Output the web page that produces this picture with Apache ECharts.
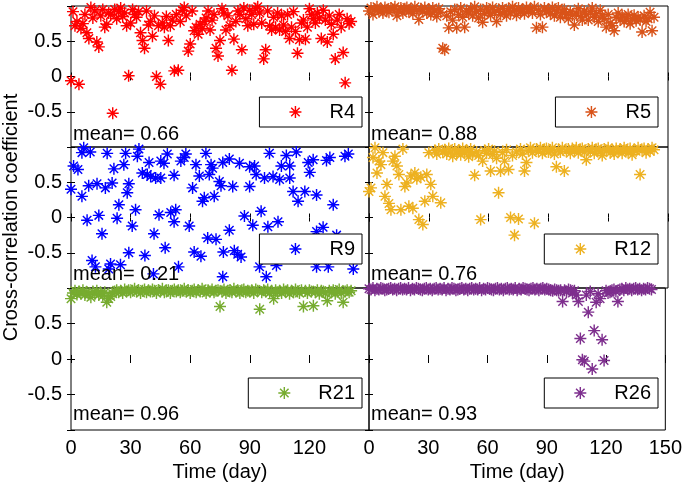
<!DOCTYPE html>
<html>
<head>
<meta charset="utf-8">
<script src="https://cdn.jsdelivr.net/npm/echarts@6/dist/echarts.min.js"></script>
<style>html,body{margin:0;padding:0;background:#fff;}#c{width:685px;height:488px;}</style>
</head>
<body>
<div id="c"></div>
<script>
// ---------- data ----------
const seriesNames = ['R4', 'R5', 'R9', 'R12', 'R21', 'R26'];
const seriesColors = ['#FF0000', '#D95319', '#0000FF', '#EDB120', '#77AC30', '#7E2F8E'];
const meanValues = [0.66, 0.88, 0.21, 0.76, 0.96, 0.93];
const xTicks = [0, 30, 60, 90, 120, 150];
const yTicks = [-0.5, 0, 0.5];

// daily series: index = day
const r4 = [-0.06, 0.92, 0.72, 0.78, -0.11, 0.68, 0.75, 0.88, 0.62, 0.54,
 0.98, 0.83, 0.93, 0.49, 0.42, 0.86, 0.95, 0.70, 0.74, 0.90,
 0.88, -0.52, 0.95, 0.82, 0.92, 0.97, 0.85, 0.90, 0.72, 0.01,
 0.76, 0.95, 0.88, 0.84, 0.92, 0.62, 0.51, 0.40, 0.93, 0.73,
 0.78, 0.57, 0.86, 0.00, 0.72, -0.11, 0.76, 0.70, 0.85, 0.51,
 0.72, 0.80, 0.08, 0.88, 0.09, 0.78, 0.94, 0.98, 0.86, 0.36,
 0.46, 0.93, 0.65, 0.70, 0.60, 0.74, 0.68, 0.78, 0.83, 0.93,
 0.66, 0.80, 0.88, 0.40, 0.29, 0.51, 0.96, 0.90, 0.66, 0.86,
 0.72, 0.09, 0.53, 0.78, 0.93, 0.88, 0.38, 0.97, 0.82, 0.72,
 0.94, 0.88, 0.74, 0.96, 0.99, 0.90, 0.76, 0.25, 0.38, 0.93,
 0.72, 0.66, 0.84, 0.70, 0.90, 0.66, 0.86, 0.73, 0.64, 0.88,
 0.54, 0.70, 0.92, 0.64, 0.33, 0.52, 0.76, 0.80, 0.53, 0.70,
 0.96, 0.88, 0.82, 0.76, 0.90, 0.83, 0.54, 0.94, 0.80, 0.49,
 0.86, 0.74, 0.60, 0.25, 0.80, 0.88, 0.70, 0.34, -0.09, 0.82,
 0.75, 0.78];

const r5 = [0.93, 0.97, 0.88, 0.95, 0.99, 0.92, 0.96, 0.90, 0.98, 0.94,
 0.91, 0.97, 0.95, 0.99, 0.86, 0.93, 0.97, 0.90, 0.96, 0.98,
 0.92, 0.95, 0.89, 0.99, 0.94, 0.81, 0.96, 0.92, 0.98, 0.90,
 0.95, 0.88, 0.97, 0.93, 0.85, 0.96, 0.91, 0.40, 0.38, 0.86,
 0.69, 0.92, 0.80, 0.95, 0.69, 0.88, 0.97, 0.84, 0.70, 0.93,
 0.90, 0.96, 0.86, 0.99, 0.92, 0.83, 0.95, 0.77, 0.89, 0.97,
 0.93, 0.87, 0.98, 0.91, 0.78, 0.95, 0.88, 0.97, 0.92, 0.86,
 0.96, 0.90, 0.99, 0.94, 0.87, 0.97, 0.92, 0.95, 0.89, 0.98,
 0.93, 0.96, 0.90, 0.99, 0.69, 0.94, 0.88, 0.70, 0.97, 0.92,
 0.95, 0.89, 0.98, 0.86, 0.93, 0.97, 0.84, 0.91, 0.95, 0.88,
 0.82, 0.92, 0.87, 0.73, 0.90, 0.96, 0.85, 0.80, 0.93, 0.88,
 0.80, 0.92, 0.97, 0.84, 0.89, 0.78, 0.94, 0.86, 0.82, 0.70,
 0.88, 0.76, 0.72, 0.65, 0.84, 0.90, 0.80, 0.86, 0.78, 0.83,
 0.88, 0.75, 0.82, 0.87, 0.79, 0.84, 0.80, 0.63, 0.86, 0.78,
 0.82, 0.91, 0.65, 0.84];

// R9 is irregular: separate day / value lists
const r9Days = [5.5, 9.7, 18.2, 27.5, 34.2, 33.4, 48.5, 57.8, 67.9, 79.7, 99.9, 108.4, 113.4, 130.3, 137.9, 139.6,
 1.3, 3.5, 21.6, 26.6, 39.3, 45.2, 46.8, 55.3, 57.0, 62.9, 70.5, 71.3, 76.4, 84.8, 89.9, 92.4, 105.9, 110.1, 119.4, 121.9, 128.6,
 35.9, 38.4, 40.1, 42.6, 45.2, 51.9, 64.6, 69.6, 93.2, 97.4, 101.7, 105.0, 110.1, 120.2,
 0, 8.9, 13.1, 17.3, 20.7, 29.1, 28.3, 61.2, 74.7, 75.5, 81.4, 89.9, 111.8, 117.7, 123.6, 114.3,
 5.5, 24.1, 32.5, 67.1, 72.1, 66.2, 95.7, 87.3, 132.0,
 8.1, 14.0, 23.2, 30.8, 44.3, 50.2, 52.7, 51.9, 59.5, 91.5, 99.1, 104.2,
 15.6, 41.8, 68.8, 73.0, 79.7, 121.9, 126.9, 133.7, 123.6,
 29.1, 37.2, 47.4, 62.0, 65.4, 76.7, 82.2, 83.9, 85.6,
 10.6, 12.3, 19.0, 19.9, 24.9, 41.5, 54.1, 76.4, 94.9, 98.3, 103.4, 123.6, 129.5, 142.1, 6.4];
const r9Vals = [0.92, 0.93, 0.91, 0.91, 0.97, 0.87, 0.90, 0.90, 0.91, 0.83, 0.91, 0.88, 0.93, 0.85, 0.87, 0.90,
 0.73, 0.68, 0.69, 0.75, 0.78, 0.80, 0.77, 0.80, 0.85, 0.75, 0.75, 0.70, 0.78, 0.77, 0.72, 0.73, 0.73, 0.73, 0.78, 0.82, 0.81,
 0.63, 0.61, 0.58, 0.56, 0.56, 0.60, 0.59, 0.61, 0.61, 0.56, 0.58, 0.54, 0.56, 0.64,
 0.40, 0.45, 0.48, 0.42, 0.49, 0.48, 0.35, 0.42, 0.51, 0.45, 0.44, 0.44, 0.37, 0.37, 0.32, 0.23,
 0.30, 0.18, 0.11, 0.28, 0.30, 0.23, 0.09, 0.02, 0.18,
 -0.04, 0.03, -0.01, -0.12, 0.04, 0.07, 0.11, -0.06, -0.12, -0.11, -0.13, -0.06,
 -0.23, -0.23, -0.29, -0.31, -0.18, -0.30, -0.14, -0.25, -0.20,
 -0.50, -0.54, -0.43, -0.49, -0.55, -0.49, -0.47, -0.52, -0.56,
 -0.61, -0.70, -0.73, -0.66, -0.67, -0.80, -0.70, -0.84, -0.70, -0.84, -0.68, -0.70, -0.70, -0.73, 0.99];

const r12 = [0.37, 0.42, 0.85, 0.99, 0.63, 0.80, 0.75, 0.92, 0.30, 0.47,
 0.20, 0.11, 0.80, 0.87, 0.73, 0.61, 0.11, 0.97, 0.44, 0.49,
 0.16, 0.59, 0.13, 0.63, 0.55, -0.03, 0.57, -0.10, 0.23, 0.61,
 0.92, 0.47, 0.30, 0.95, 0.90, 0.97, 0.21, 0.93, 0.96, 0.90,
 0.98, 0.93, 0.87, 0.97, 0.91, 0.95, 0.89, 0.98, 0.92, 0.94,
 0.86, 0.97, 0.90, 0.60, 0.93, 0.88, -0.03, 0.80, 0.95, 0.91,
 0.97, 0.66, 0.89, 0.94, 0.84, 0.35, 0.66, 0.92, 0.80, 0.96,
 0.68, 0.00, 0.88, -0.25, 0.93, -0.02, 0.97, 0.90, 0.66, 0.78,
 0.95, 0.99, 0.92, -0.08, 0.97, 0.94, 0.99, 0.91, 0.96, 0.98,
 0.93, 0.95, 0.99, 0.90, 0.72, 0.96, 0.93, 0.99, 0.66, 0.94,
 0.97, 0.91, 0.98, 0.95, 0.99, 0.92, 0.96, 0.98, 0.93, 0.82,
 0.97, 0.94, 0.99, 0.91, 0.96, 0.98, 0.93, 0.88, 0.97, 0.95,
 0.99, 0.92, 0.96, 0.90, 0.98, 0.94, 0.97, 0.91, 0.99, 0.95,
 0.93, 0.98, 0.89, 0.96, 0.94, 0.99, 0.61, 0.95, 0.98, 0.92,
 0.97, 0.94, 0.99, 0.96];

const r21 = [0.85, 0.93, 0.96, 0.91, 0.95, 0.92, 0.97, 0.90, 0.94, 0.91,
 0.87, 0.95, 0.92, 0.96, 0.90, 0.93, 0.89, 0.94, 0.80, 0.85,
 0.88, 0.92, 0.95, 0.97, 0.94, 0.96, 0.93, 0.98, 0.95, 0.97,
 0.94, 0.96, 0.99, 0.95, 0.97, 0.93, 0.96, 0.98, 0.94, 0.97,
 0.95, 0.98, 0.96, 0.93, 0.97, 0.95, 0.99, 0.94, 0.96, 0.97,
 0.93, 0.96, 0.98, 0.95, 0.97, 0.94, 0.96, 0.99, 0.95, 0.97,
 0.93, 0.96, 0.98, 0.94, 0.97, 0.95, 0.99, 0.96, 0.93, 0.97,
 0.95, 0.98, 0.94, 0.96, 0.97, 0.74, 0.95, 0.98, 0.93, 0.96,
 0.97, 0.94, 0.99, 0.95, 0.96, 0.93, 0.97, 0.98, 0.94, 0.96,
 0.95, 0.97, 0.93, 0.98, 0.96, 0.70, 0.94, 0.97, 0.95, 0.98,
 0.93, 0.96, 0.85, 0.97, 0.94, 0.96, 0.93, 0.98, 0.95, 0.97,
 0.92, 0.96, 0.94, 0.98, 0.95, 0.93, 0.97, 0.74, 0.96, 0.93,
 0.97, 0.95, 0.75, 0.94, 0.97, 0.92, 0.96, 0.95, 0.93, 0.82,
 0.96, 0.94, 0.97, 0.92, 0.95, 0.98, 0.93, 0.80, 0.95, 0.97,
 0.94, 0.96];

const r26 = [0.99, 0.98, 1.00, 0.97, 0.99, 0.98, 1.00, 0.99, 0.97, 0.98,
 0.99, 1.00, 0.98, 0.99, 0.97, 0.99, 1.00, 0.98, 0.99, 0.98,
 1.00, 0.97, 0.99, 0.98, 1.00, 0.99, 0.98, 0.97, 0.99, 1.00,
 0.98, 0.99, 0.97, 0.99, 1.00, 0.98, 0.99, 0.98, 1.00, 0.97,
 0.99, 0.98, 1.00, 0.99, 0.97, 0.98, 0.99, 1.00, 0.98, 0.99,
 0.97, 0.99, 1.00, 0.98, 0.99, 0.98, 1.00, 0.97, 0.99, 0.98,
 1.00, 0.99, 0.98, 0.97, 0.99, 1.00, 0.98, 0.99, 0.97, 0.99,
 1.00, 0.98, 0.99, 0.98, 1.00, 0.97, 0.99, 0.98, 1.00, 0.99,
 0.98, 0.97, 0.99, 1.00, 0.98, 0.99, 0.97, 0.99, 1.00, 0.98,
 0.99, 0.98, 0.97, 0.96, 0.98, 0.97, 0.96, 0.97, 0.81, 0.97,
 0.95, 0.98, 0.97, 0.93, 0.96, 0.90, 0.81, 0.29, -0.01, -0.03,
 0.90, 0.66, 0.95, -0.14, 0.40, 0.80, 0.92, 0.85, 0.27, -0.02,
 0.96, 0.93, 0.94, 0.97, 0.98, 0.95, 0.81, 0.98, 0.99, 0.97,
 1.00, 0.98, 0.99, 0.97, 0.99, 1.00, 0.98, 0.99, 0.97, 0.99,
 0.98, 1.00, 0.99, 0.98];

// ---------- layout / style ----------
const FONT = '"Liberation Sans", Arial, Helvetica, sans-serif';
const STAR = 'path://M-0.12,-1L0.12,-1L0.12,1L-0.12,1Z' +
  'M-1,-0.12L1,-0.12L1,0.12L-1,0.12Z' +
  'M-0.622,-0.792L0.792,0.622L0.622,0.792L-0.792,-0.622Z' +
  'M-0.792,0.622L0.622,-0.792L0.792,-0.622L-0.622,0.792Z';

const colLeft = [71, 369], colWidth = [298, 299];
const rowTop = [6, 147, 288], rowHeight = [141, 141, 142];

const daily = v => v.map((y, i) => [i, y]);
const seriesData = [
  daily(r4), daily(r5),
  r9Days.map((d, i) => [d, r9Vals[i]]), daily(r12),
  daily(r21), daily(r26)
];

const grids = [], xAxes = [], yAxes = [], series = [], legends = [], titles = [];
const tickStyle = { show: true, inside: true, length: 4, lineStyle: { color: '#000', width: 1 } };

for (let i = 0; i < 6; i++) {
  const r = Math.floor(i / 2), c = i % 2;
  grids.push({ left: colLeft[c], top: rowTop[r], width: colWidth[c], height: rowHeight[r],
    show: true, borderColor: '#000', borderWidth: 1, backgroundColor: 'transparent', containLabel: false });
  const xBase = { gridIndex: i, type: 'value', min: xTicks[0], max: xTicks[xTicks.length - 1], interval: 30,
    axisLine: { show: false }, splitLine: { show: false }, axisTick: tickStyle };
  xAxes.push(Object.assign({}, xBase, {
    position: 'bottom',
    axisLabel: { show: r === 2, color: '#000', fontSize: 20, fontFamily: FONT, margin: 8,
      showMinLabel: true, showMaxLabel: true,
      formatter: v => (c === 0 && v === 150) ? '' : String(v) },
    name: r === 2 ? 'Time (day)' : '', nameLocation: 'middle', nameGap: 32,
    nameTextStyle: { color: '#000', fontSize: 20, fontFamily: FONT }
  }));
  xAxes.push(Object.assign({}, xBase, { position: 'top', axisLabel: { show: false } }));
  const yBase = { gridIndex: i, type: 'value', min: -1, max: 1, interval: 0.5,
    axisLine: { show: false }, splitLine: { show: false }, axisTick: tickStyle };
  yAxes.push(Object.assign({}, yBase, {
    position: 'left',
    axisLabel: { show: c === 0, color: '#000', fontSize: 20, fontFamily: FONT, margin: 9,
      formatter: v => yTicks.indexOf(v) >= 0 ? String(v) : '' },
    name: (r === 1 && c === 0) ? 'Cross-correlation coefficient' : '',
    nameLocation: 'middle', nameGap: 50,
    nameTextStyle: { color: '#000', fontSize: 20, fontFamily: FONT }
  }));
  yAxes.push(Object.assign({}, yBase, { position: 'right', axisLabel: { show: false } }));

  series.push({ type: 'scatter', name: seriesNames[i], xAxisIndex: 2 * i, yAxisIndex: 2 * i,
    data: seriesData[i], symbol: STAR, symbolSize: 12, clip: false,
    itemStyle: { color: seriesColors[i], opacity: 1 }, emphasis: { disabled: true }, animation: false });

  legends.push({ data: [seriesNames[i]], icon: STAR, itemWidth: 12, itemHeight: 12,
    right: c === 0 ? 685 - 362 : 685 - 658, top: [97, 234, 378][r],
    backgroundColor: '#fff', borderColor: '#000', borderWidth: 1, borderRadius: 0,
    padding: [5, 7, 5, 30], selectedMode: false,
    textStyle: { color: '#000', fontSize: 20, fontFamily: FONT, lineHeight: 20, padding: [0, 0, 0, 23] } });

  titles.push({ text: 'mean= ' + meanValues[i].toFixed(2), left: c === 0 ? 73 : 371,
    top: [124, 264, 404][r], padding: 0,
    textStyle: { color: '#000', fontSize: 20, fontWeight: 'normal', fontFamily: FONT } });
}

const chart = echarts.init(document.getElementById('c'), null, { renderer: 'canvas' });
chart.setOption({
  animation: false,
  backgroundColor: '#fff',
  title: titles, legend: legends, grid: grids, xAxis: xAxes, yAxis: yAxes, series: series
});
</script>
</body>
</html>
